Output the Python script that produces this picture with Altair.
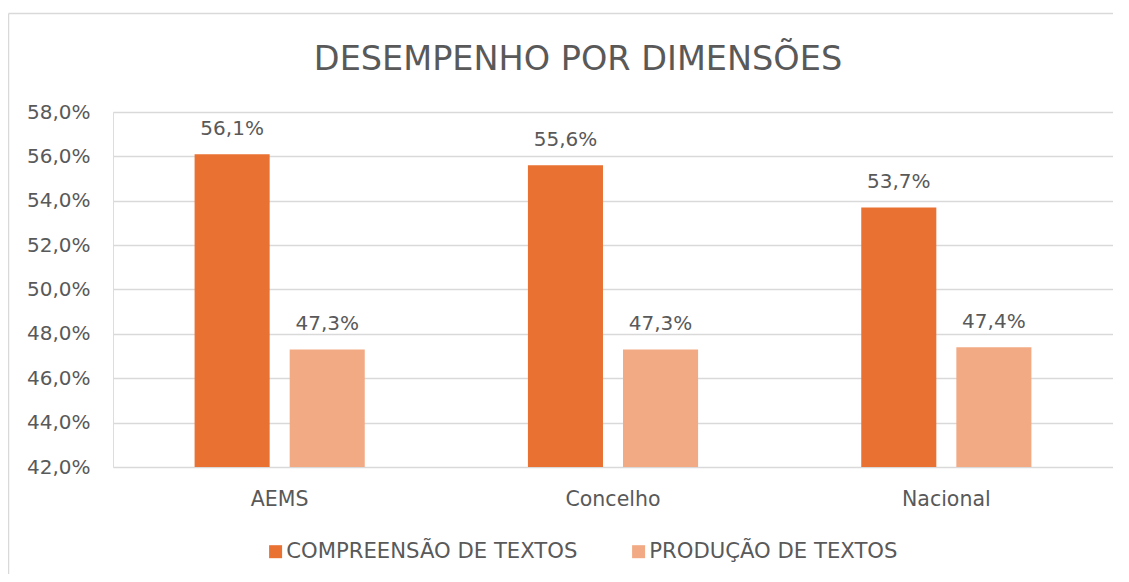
import altair as alt
import pandas as pd

regions = ["AEMS", "Concelho", "Nacional"]
series = ["COMPREENSÃO DE TEXTOS", "PRODUÇÃO DE TEXTOS"]
compreensao = [0.561, 0.556, 0.537]
producao = [0.473, 0.473, 0.474]
y_ticks = [0.42, 0.44, 0.46, 0.48, 0.50, 0.52, 0.54, 0.56, 0.58]
y_min, y_max = 0.42, 0.58
colors = ["#E97132", "#F1AA84"]

rows = []
for r, a, b in zip(regions, compreensao, producao):
    rows.append({"Região": r, "Dimensão": series[0], "Valor": a})
    rows.append({"Região": r, "Dimensão": series[1], "Valor": b})
df = pd.DataFrame(rows)

FONT = "DejaVu Sans"
TXT = "#595959"

base = alt.Chart(df).encode(
    x=alt.X("Região:N", sort=regions,
            scale=alt.Scale(paddingInner=0, paddingOuter=0),
            axis=alt.Axis(title=None, labelAngle=0, ticks=False, domain=False,
                          labelFontSize=20.5, labelColor=TXT, labelFont=FONT,
                          labelPadding=22)),
    xOffset=alt.XOffset("Dimensão:N", sort=series,
                        scale=alt.Scale(paddingInner=0.2105, paddingOuter=0.858)),
)

bars = base.mark_bar().transform_calculate(
    base=str(y_min)
).encode(
    y=alt.Y("Valor:Q",
            scale=alt.Scale(domain=[y_min, y_max], zero=False, nice=False),
            axis=alt.Axis(title=None, values=y_ticks, ticks=False, domain=False,
                          gridColor="#D9D9D9", gridWidth=1.5,
                          labelFontSize=20, labelColor=TXT, labelFont=FONT,
                          labelPadding=23,
                          labelExpr="replace(format(datum.value, '.1%'), '.', ',')")),
    y2="base:Q",
    color=alt.Color("Dimensão:N", sort=series,
                    scale=alt.Scale(domain=series, range=colors),
                    legend=alt.Legend(title=None, orient="none", direction="horizontal",
                                      legendX=152, legendY=429,
                                      symbolType="square", symbolSize=169,
                                      symbolStrokeWidth=0, labelFontSize=21.2,
                                      labelFont=FONT, labelColor=TXT, labelLimit=500,
                                      labelOffset=0, columnPadding=50, padding=0)),
)

labels = base.mark_text(baseline="alphabetic", dy=-19, fontSize=20, font=FONT,
                        color=TXT).transform_calculate(
    lbl="replace(format(datum.Valor, '.1%'), '.', ',')"
).encode(
    y=alt.Y("Valor:Q"),
    text="lbl:N",
)

frame = pd.DataFrame({"a": [0]})
left_edge = alt.Chart(frame).mark_rule(color="#D9D9D9", strokeWidth=1.5).encode(
    x=alt.value(-104.5), y=alt.value(-98.5), y2=alt.value(500),
)
top_edge = alt.Chart(frame).mark_rule(color="#D9D9D9", strokeWidth=1.5).encode(
    x=alt.value(-104.5), x2=alt.value(1040), y=alt.value(-98.5),
)

chart = alt.layer(left_edge, top_edge, bars, labels).properties(
    width=1000, height=355,
    title=alt.TitleParams("DESEMPENHO POR DIMENSÕES", font=FONT, fontSize=33.5,
                          fontWeight="normal", color=TXT, anchor="middle",
                          baseline="alphabetic", offset=-91, dx=-35),
    autosize=alt.AutoSizeParams(type="none"),
    padding={"left": 105, "top": 104, "right": 0, "bottom": 107},
).configure_view(stroke=None).configure(background="white")

chart.save("out.html", embed_options={"renderer": "svg", "actions": False})
